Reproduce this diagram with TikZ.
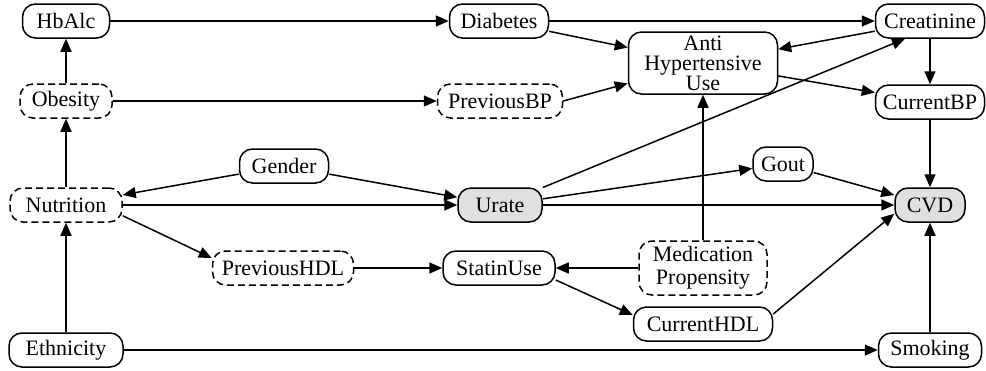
\documentclass[tikz,border=0pt]{standalone}
\usepackage{fontspec}
\setmainfont{Liberation Serif}
\usetikzlibrary{arrows.meta,positioning}

\begin{document}
\begin{tikzpicture}[
    x=1pt, y=-1pt,
    font=\fontsize{22}{20}\selectfont,
    box/.style={rectangle, rounded corners=13pt, draw=black, line width=1.5pt, align=center, minimum height=34pt, inner sep=2pt},
    latent/.style={box, dash pattern=on 7pt off 4pt},
    shaded/.style={box, fill=black!12},
    arrow/.style={-{Triangle[length=13pt, width=11pt]}, line width=1.5pt}
]
\useasboundingbox (0,0) rectangle (986,370);
\node[box, minimum width=87pt] (hba) at (66,21) {HbAlc};
\node[box, minimum width=99pt] (dia) at (499,21) {Diabetes};
\node[box, minimum width=109pt] (cre) at (930,21) {Creatinine};
\node[box, minimum width=149pt, minimum height=62pt] (ahu) at (703,63) {Anti\\Hypertensive\\Use};
\node[box, minimum width=109pt] (cbp) at (930,102) {CurrentBP};
\node[latent, minimum width=92pt] (obe) at (66,101) {Obesity};
\node[latent, minimum width=125pt] (pbp) at (500,101) {PreviousBP};
\node[box, minimum width=89pt] (gen) at (284,166) {Gender};
\node[box, minimum width=60pt] (gou) at (783,164) {Gout};
\node[latent, minimum width=112pt] (nut) at (66,205) {Nutrition};
\node[shaded, minimum width=84pt] (ura) at (500,205) {Urate};
\node[shaded, minimum width=70pt] (cvd) at (930,205) {CVD};
\node[latent, minimum width=141pt] (phd) at (283,268) {PreviousHDL};
\node[box, minimum width=112pt] (sta) at (499,268) {StatinUse};
\node[latent, minimum width=128pt, minimum height=54pt, font=\fontsize{22}{23}\selectfont] (med) at (703,268) {Medication\\Propensity};
\node[box, minimum width=139pt] (chd) at (703,324) {CurrentHDL};
\node[box, minimum width=114pt] (eth) at (66,350) {Ethnicity};
\node[box, minimum width=103pt] (smo) at (930,350) {Smoking};

% top part
\draw[arrow] (hba) -- (dia);
\draw[arrow] (obe) -- (hba);
\draw[arrow] (nut) -- (obe);
\draw[arrow] (obe) -- (pbp);
\draw[arrow] (dia) -- (cre);
\draw[arrow] (dia) -- (ahu);
\draw[arrow] (pbp.east) -- (ahu);
\draw[arrow] (cre) -- (ahu);
\draw[arrow] (ahu) -- (cbp);
\draw[arrow] (cre) -- (cbp);
\draw[arrow] (cbp) -- (cvd);
% middle
\draw[arrow] (gen) -- (nut);
\draw[arrow] (gen) -- (ura);
\draw[arrow] (nut) -- (ura);
\draw[arrow] (ura) -- ([xshift=-25pt]cre.south);
\draw[arrow] (ura) -- (gou);
\draw[arrow] (ura) -- (cvd);
\draw[arrow] (gou) -- (cvd);
% bottom part
\draw[arrow] ([yshift=7pt]nut.south east) -- ([yshift=10pt]phd.west);
\draw[arrow] (phd) -- (sta);
\draw[arrow] (med) -- (sta);
\draw[arrow] (med) -- (ahu);
\draw[arrow] ([yshift=-12pt]sta.east) -- ([yshift=9pt]chd.west);
\draw[arrow] ([yshift=10pt]chd.east) -- ([yshift=9pt]cvd.south west);
\draw[arrow] (eth) -- (nut);
\draw[arrow] (eth) -- (smo);
\draw[arrow] (smo) -- (cvd);
\end{tikzpicture}
\end{document}
